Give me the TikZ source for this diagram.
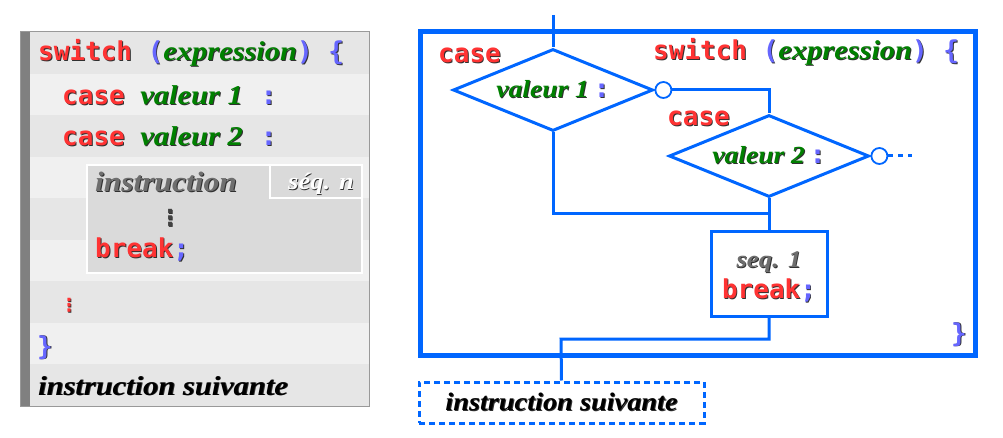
\documentclass[tikz,border=0pt]{standalone}
\usepackage{fontspec}
\setmonofont{DejaVu Sans Mono}
\newfontfamily\itf[FakeStretch=1.12]{Liberation Serif}
\newfontfamily\dvs{DejaVu Sans}
\usetikzlibrary{shapes.geometric}
\definecolor{kwred}{HTML}{FF3333}
\definecolor{exgreen}{HTML}{008000}
\definecolor{puc}{HTML}{6666FF}
\definecolor{lb}{HTML}{0066FF}
\definecolor{shd}{HTML}{303030}
\definecolor{grtxt}{HTML}{6E6E6E}
\definecolor{rowA}{HTML}{E6E6E6}
\definecolor{rowB}{HTML}{F0F0F0}
\definecolor{innerg}{HTML}{DADADA}
\definecolor{barg}{HTML}{808080}
\newcommand\shtext[2]{\leavevmode\rlap{\kern0.9pt\raisebox{-0.9pt}{\color{shd}#2}}{\color{#1}#2}}
\newcommand\kw[1]{\shtext{kwred}{\fontsize{26}{31}\ttfamily\bfseries #1}}
\newcommand\pu[1]{\shtext{puc}{\fontsize{26}{31}\ttfamily\bfseries #1}}
\newcommand\msp{{\fontsize{26}{31}\ttfamily\bfseries\ }}
\newcommand\ex[2][27.2]{\shtext{exgreen}{\fontsize{#1}{#1}\itf\bfseries\itshape #2}}
\newcommand\gr[3][grtxt]{\shtext{#1}{\fontsize{#2}{#2}\itf\bfseries\itshape #3}}
\tikzset{
  txt/.style={inner sep=0pt, anchor=base west},
  conn/.style={draw=lb, line width=3pt},
  dia/.style={diamond, draw=lb, line width=3pt, aspect=2.44, minimum width=200pt, minimum height=82pt, inner sep=0pt},
  cir/.style={circle, draw=lb, fill=white, line width=1.8pt, minimum size=16pt, inner sep=0pt},
  sbox/.style={rectangle, draw=lb, fill=white, line width=3pt, minimum width=116pt, minimum height=84pt, inner sep=0pt, text height=30pt, text depth=42pt},
  nbox/.style={rectangle, draw=lb, dashed, dash pattern=on 6pt off 4pt, line width=3pt, minimum width=285pt, minimum height=41pt, inner sep=0pt},
  frame/.style={rectangle, draw=lb, line width=5pt, minimum width=555pt, minimum height=323pt, inner sep=0pt}
}
\begin{document}
\begin{tikzpicture}[x=1pt, y=-1pt]
\useasboundingbox (0,0) rectangle (1003,438);
% ---------- left panel ----------
\foreach \i in {0,...,8}{
  \pgfmathtruncatemacro\odd{mod(\i,2)}
  \ifnum\odd=0 \def\rc{rowA}\else\def\rc{rowB}\fi
  \fill[\rc] (20,{32+41.56*\i}) rectangle (369,{32+41.56*(\i+1)});
}
\fill[barg] (20,32) rectangle (30,406);
\draw[gray!80, line width=1pt] (20,32) rectangle (369,406);
\filldraw[fill=innerg, draw=white, line width=2pt] (87,165) rectangle (362,273);
\draw[white, line width=2pt] (270,165) |- (362,198);
\node[txt] (l1) at (38,61) {\kw{switch}\msp\pu{(}\ex{expression}\pu{)}\msp\pu{\{}};
\node[txt] (l2) at (62,105) {\kw{case}\msp\ex{valeur 1}\hspace{18pt}\pu{:}};
\node[txt] (l3) at (62,146) {\kw{case}\msp\ex{valeur 2}\hspace{18pt}\pu{:}};
\node[txt] (l4) at (95,192) {\gr{28.1}{instruction}};
\node[txt] (l4b) at (288,190) {\gr[white]{23.7}{séq. n}};
\node[inner sep=0pt] (l5) at (170,218) {\shtext{grtxt!60!black}{\fontsize{22}{22}\dvs\bfseries ⋮}};
\node[txt] (l6) at (95,258) {\kw{break}\pu{;}};
\node[inner sep=0pt] (l7) at (69,306) {\shtext{kwred}{\fontsize{18}{18}\dvs\bfseries ⋮}};
\node[txt] (l8) at (37,355) {\pu{\}}};
\node[txt] (l9) at (38,395) {\gr[black]{27.2}{instruction suivante}};
% ---------- right diagram ----------
\node[frame] (fr) at (697.5,193.5) {};
\node[txt] (rcase1) at (438,63) {\kw{case}};
\node[txt] (rsw) at (653,60) {\kw{switch}\msp\pu{(}\ex{expression}\pu{)}\msp\pu{\{}};
\node[txt] (rcase2) at (667,126) {\kw{case}};
\node[txt] (rbr) at (951,342) {\pu{\}}};
\node[dia] (d1) at (553,90) {\ex[24.6]{valeur 1}\hspace{5pt}\pu{:}};
\node[dia] (d2) at (769,156) {\ex[24.6]{valeur 2}\hspace{5pt}\pu{:}};
\node[cir, anchor=west] (c1) at (d1.east) {};
\node[cir, anchor=west] (c2) at (d2.east) {};
\node[sbox] (s1) at (769,274) {\fontsize{22}{31}\selectfont\begin{tabular}[t]{@{}c@{}}\gr{24}{seq. 1}\\\kw{break}\pu{;}\end{tabular}};
\node[nbox] (nx) at (561.5,402.5) {\gr[black]{25.3}{instruction suivante}};
\coordinate (top) at (553,15);
\coordinate (dots) at (912,156);
\coordinate (j) at (769,214);
\coordinate (m) at (561,339);
\draw[conn] (top) -- (d1.north);
\draw[conn] (c1.east) -| (d2.north);
\draw[conn, dash pattern=on 5pt off 5pt] (c2.east) -- (dots);
\draw[conn] (d1.south) |- (j);
\draw[conn] (d2.south) -- (s1.north);
\draw[conn] (s1.south) |- (m) -- (nx.north);
\end{tikzpicture}
\end{document}
